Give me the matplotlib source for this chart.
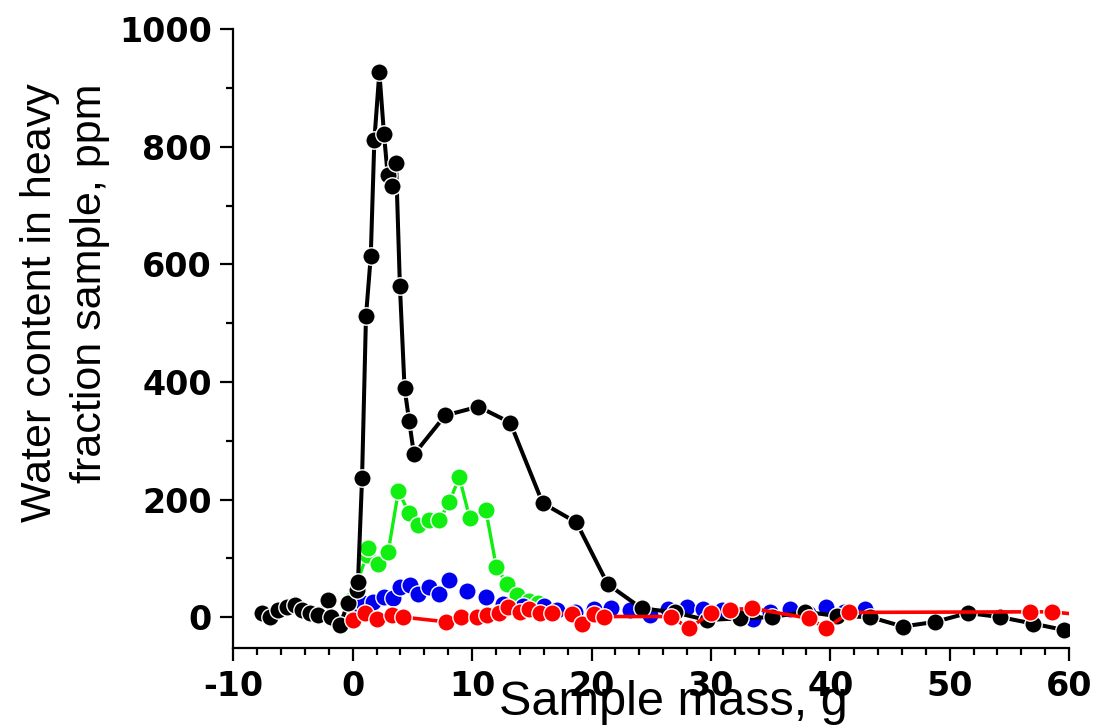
import matplotlib
matplotlib.use("Agg")
import matplotlib.pyplot as plt
from matplotlib.ticker import MultipleLocator

plt.rcParams["axes.unicode_minus"] = False

# black series (markers + line)
black_x = [-7.63, -6.95, -6.27, -5.49, -4.81, -4.23, -3.55, -2.87, -2.09, -1.79, -1.06, -0.39,
           0.35, 0.44, 0.78, 1.11, 1.51, 1.81, 2.23, 2.62, 2.93, 3.27, 3.63, 3.95, 4.34, 4.73,
           5.13, 7.74, 10.52, 13.19, 15.91, 18.74, 21.36, 24.19, 27.01, 29.64, 32.46, 35.09,
           37.9, 40.53, 43.36, 46.08, 48.8, 51.53, 54.25, 56.98, 59.6]
black_y = [7, 1, 12, 18, 21, 12, 7, 4, 29, 1, -13, 24,
           46, 60, 236, 512, 614, 811, 927, 821, 752, 733, 772, 564, 390, 333,
           277, 343, 358, 331, 194, 161, 56, 15, 8, -5, -2, 0,
           9, 2, 0, -16, -8, 7, 0, -11, -22]

# green series
green_x = [-0.14, 1.17, 1.31, 2.15, 2.97, 3.82, 4.73, 5.5, 6.38, 7.26, 8.09, 8.93, 9.79,
           11.15, 12.02, 12.9, 13.77, 14.75, 15.53]
green_y = [29, 105, 117, 91, 111, 214, 177, 156, 165, 165, 196, 238, 169,
           182, 86, 57, 38, 28, 24]

# blue series (markers only)
blue_x = [0.19, 0.89, 1.71, 2.58, 3.36, 3.95, 4.82, 5.5, 6.38, 7.26, 8.09, 9.59, 11.15,
          12.61, 14.26, 16.01, 17.08, 18.64, 20.2, 21.66, 23.21, 24.87, 26.43, 27.98,
          29.34, 30.9, 32.55, 33.53, 34.99, 36.64, 38.1, 39.66, 41.12, 42.87]
blue_y = [18, 24, 26, 35, 32, 51, 55, 39, 52, 39, 63, 44, 35,
          22, 19, 19, 12, 9, 13, 16, 12, 4, 13, 18,
          13, 12, 4, -3, 9, 13, 7, 18, 9, 13]

# red series
red_x = [0.05, 1.03, 2.0, 3.27, 4.24, 7.84, 9.1, 10.37, 11.25, 12.22, 13.0, 13.97, 14.75,
         15.72, 16.69, 18.35, 19.22, 20.2, 21.07, 26.62, 28.18, 30.02, 31.58, 33.43,
         38.2, 39.66, 41.61, 56.69, 58.54, 61.5]
red_y = [-5, 7, -3, 4, 0, -8, 0, 1, 4, 7, 18, 9, 13,
         7, 7, 5, -11, 5, 1, 1, -19, 7, 12, 15,
         -2, -19, 8, 9, 9, 3]

fig = plt.figure(figsize=(10.95, 7.28), dpi=100)
ax = fig.add_axes([0.2131, 0.1095, 0.7632, 0.8503])

mk = dict(marker="o", markersize=12.5, markeredgecolor="white", markeredgewidth=1.0)
ax.plot(green_x, green_y, color="#11ee11", lw=2.4, markerfacecolor="#11ee11", zorder=2, **mk)
ax.plot(blue_x, blue_y, color="#0000ee", lw=0, markerfacecolor="#0000ee", zorder=3, **mk)
ax.plot(black_x, black_y, color="black", lw=2.9, markerfacecolor="black", zorder=4, **mk)
ax.plot(red_x, red_y, color="#ff0000", lw=2.6, markerfacecolor="#ff0000", zorder=5, **mk)

ax.set_xlim(-10, 60)
ax.set_ylim(-53, 1000)
ax.set_xticks(range(-10, 61, 10))
ax.set_yticks(range(0, 1001, 200))
ax.xaxis.set_minor_locator(MultipleLocator(2))
ax.yaxis.set_minor_locator(MultipleLocator(100))

for s in ["top", "right"]:
    ax.spines[s].set_visible(False)
for s in ["left", "bottom"]:
    ax.spines[s].set_linewidth(1.6)

ax.tick_params(which="major", direction="out", length=9.4, width=1.6, pad=6.0)
ax.tick_params(which="minor", direction="out", length=5, width=1.6)
for lab in ax.get_xticklabels() + ax.get_yticklabels():
    lab.set_fontfamily("DejaVu Sans")
    lab.set_fontweight("bold")
    lab.set_fontsize(24)

ax.set_xlabel("Sample mass, g", fontsize=35, family=["Liberation Sans", "DejaVu Sans"])
ax.xaxis.label.set_va("baseline")
ax.xaxis.set_label_coords(0.527, -0.108)

fig.text(0.0594, 0.584, "Water content in heavy\nfraction sample, ppm",
         rotation=90, ha="center", va="center", multialignment="right",
         linespacing=1.35, fontsize=31,
         family=["Liberation Sans", "DejaVu Sans"])

fig.savefig("out.png", dpi=100)
